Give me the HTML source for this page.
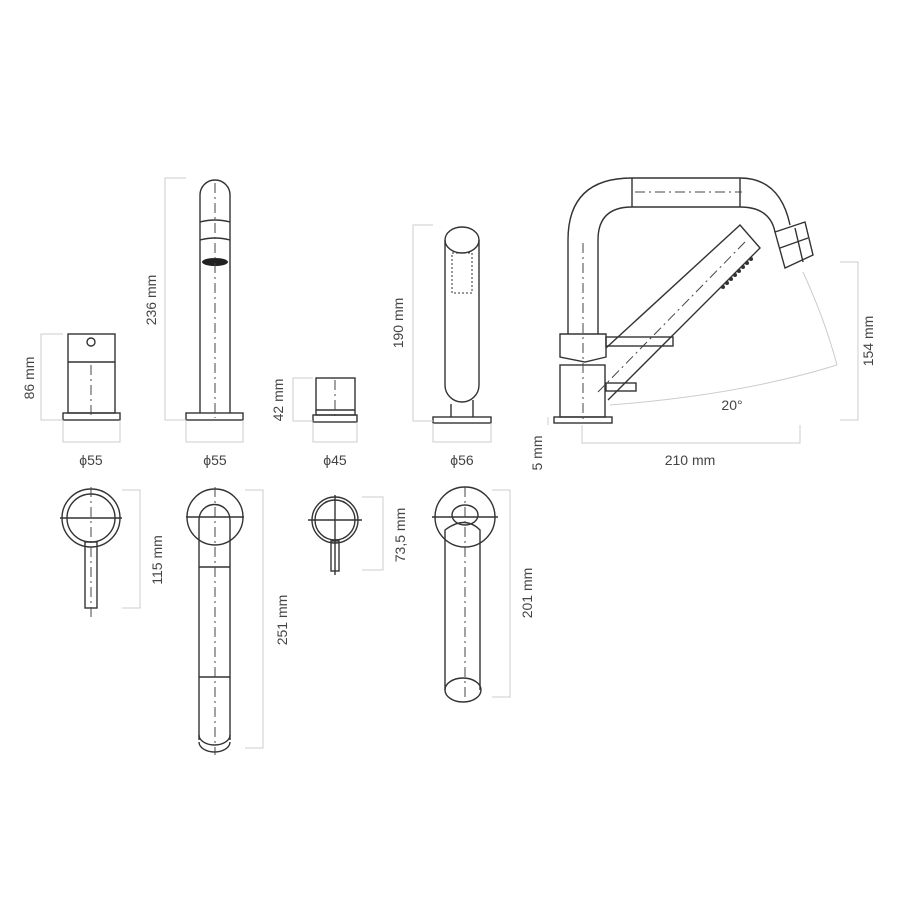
<!DOCTYPE html>
<html><head><meta charset="utf-8"><style>
html,body{margin:0;padding:0;background:#fff}
svg{display:block}
text{font-family:"Liberation Sans",sans-serif;font-size:14px;fill:#444}
.s{fill:none;stroke:#333;stroke-width:1.4}
.d{fill:none;stroke:#ccc;stroke-width:1}
.c{fill:none;stroke:#444;stroke-width:1;stroke-dasharray:10 4 2 4}
</style></head><body>
<svg width="900" height="900" viewBox="0 0 900 900">
<!-- comp1 side -->
<rect class="s" x="63" y="413" width="57" height="7"/>
<rect class="s" x="68" y="334" width="47" height="79"/>
<line class="s" x1="68" y1="362" x2="115" y2="362"/>
<circle class="s" cx="91" cy="342" r="4"/>
<line class="c" x1="91" y1="365" x2="91" y2="418"/>
<polyline class="d" points="63,334 41,334 41,420 63,420"/>
<polyline class="d" points="63,420 63,442 120,442 120,420"/>
<text transform="translate(34,378) rotate(-90)" text-anchor="middle">86 mm</text>
<text x="91" y="465" text-anchor="middle">ϕ55</text>
<!-- comp2 side -->
<rect class="s" x="186" y="413" width="57" height="7"/>
<path class="s" d="M200,413 V195 A15,15 0 0 1 230,195 V413"/>
<path class="s" d="M200,222 Q215,218 230,222 M200,240 Q215,236 230,240"/>
<ellipse cx="215" cy="262" rx="13" ry="4" fill="#222"/>
<line class="c" x1="215" y1="183" x2="215" y2="418"/>
<polyline class="d" points="186,178 165,178 165,420 186,420"/>
<polyline class="d" points="186,420 186,442 243,442 243,420"/>
<text transform="translate(156,300) rotate(-90)" text-anchor="middle">236 mm</text>
<text x="215" y="465" text-anchor="middle">ϕ55</text>
<!-- comp3 side -->
<rect class="s" x="313" y="415" width="44" height="7"/>
<rect class="s" x="316" y="378" width="39" height="37"/>
<line class="s" x1="316" y1="410" x2="355" y2="410"/>
<line class="c" x1="335" y1="380" x2="335" y2="420"/>
<polyline class="d" points="313,378 293,378 293,421 313,421"/>
<polyline class="d" points="313,422 313,442 357,442 357,422"/>
<text transform="translate(283,400) rotate(-90)" text-anchor="middle">42 mm</text>
<text x="335" y="465" text-anchor="middle">ϕ45</text>
<!-- comp4 side -->
<rect class="s" x="433" y="417" width="58" height="6"/>
<path class="s" d="M445,240 V385 A17,17 0 0 0 479,385 V240"/>
<ellipse class="s" cx="462" cy="240" rx="17" ry="13"/>
<rect x="452" y="253" width="20" height="40" fill="none" stroke="#333" stroke-width="1" stroke-dasharray="2 2"/>
<path class="s" d="M451,404 V417 M473,400 V417"/>
<polyline class="d" points="433,225 413,225 413,421 433,421"/>
<polyline class="d" points="433,423 433,442 491,442 491,423"/>
<text transform="translate(403,323) rotate(-90)" text-anchor="middle">190 mm</text>
<text x="462" y="465" text-anchor="middle">ϕ56</text>
<!-- comp5 side -->
<rect class="s" x="554" y="417" width="58" height="6"/>
<rect class="s" x="560" y="365" width="45" height="52"/>
<path class="s" d="M560,334 H606 V357 L585,362 L560,357 Z"/>
<path class="s" d="M568,334 V240 Q568,178 632,178 H740 Q780,178 790,225 M598,334 V240 Q598,207 632,207 H740 Q770,207 775,232"/>
<line class="s" x1="632" y1="178" x2="632" y2="207"/>
<line class="s" x1="740" y1="178" x2="740" y2="207"/>
<line class="c" x1="635" y1="192" x2="742" y2="192"/>
<line class="c" x1="583" y1="243" x2="583" y2="420"/>
<path class="s" d="M775,232 L805,222 L813,255 L785,268 Z M795,228 L803,262 M780,248 L808,238"/>
<path class="s" d="M606,348 L740,225 L760,248 L608,400"/>
<line class="c" x1="598" y1="392" x2="745" y2="242"/>
<g fill="#333"><circle cx="723" cy="287" r="2"/><circle cx="727" cy="283" r="2"/><circle cx="731" cy="279" r="2"/><circle cx="735" cy="275" r="2"/><circle cx="739" cy="271" r="2"/><circle cx="743" cy="267" r="2"/><circle cx="747" cy="263" r="2"/><circle cx="751" cy="259" r="2"/></g>
<rect class="s" x="606" y="337" width="67" height="9" fill="#fff"/>
<rect class="s" x="606" y="383" width="30" height="8" fill="#fff"/>
<path class="d" d="M610,405 Q740,395 837,365 M803,272 Q825,320 837,365"/>
<polyline class="d" points="840,262 858,262 858,420 840,420"/>
<polyline class="d" points="582,425 582,443 800,443 800,425"/>
<text transform="translate(873,341) rotate(-90)" text-anchor="middle">154 mm</text>
<text x="732" y="410" text-anchor="middle">20°</text>
<text x="690" y="465" text-anchor="middle">210 mm</text>
<text transform="translate(542,453) rotate(-90)" text-anchor="middle">5 mm</text>
<line class="d" x1="548" y1="417" x2="548" y2="425"/>
<!-- bottom comp1 -->
<circle class="s" cx="91" cy="518" r="29"/>
<circle class="s" cx="91" cy="518" r="24"/>
<rect class="s" x="85" y="542" width="12" height="66" fill="#fff"/>
<line class="s" x1="60" y1="518" x2="122" y2="518" stroke-width="1"/>
<line class="c" x1="91" y1="487" x2="91" y2="617"/>
<polyline class="d" points="122,490 140,490 140,608 122,608"/>
<text transform="translate(162,560) rotate(-90)" text-anchor="middle">115 mm</text>
<!-- bottom comp2 -->
<circle class="s" cx="215" cy="517" r="28"/>
<path class="s" d="M199,740 V520 A15.5,15.5 0 0 1 230,520 V740" fill="#fff"/>
<path class="s" d="M199,735 A15.5,10 0 0 0 230,735 M199,742 A15.5,10 0 0 0 230,742"/>
<line class="s" x1="199" y1="567" x2="230" y2="567"/>
<line class="s" x1="199" y1="677" x2="230" y2="677"/>
<line class="s" x1="186" y1="517" x2="244" y2="517" stroke-width="1"/>
<line class="c" x1="215" y1="487" x2="215" y2="755"/>
<polyline class="d" points="245,490 263,490 263,748 245,748"/>
<text transform="translate(287,620) rotate(-90)" text-anchor="middle">251 mm</text>
<!-- bottom comp3 -->
<circle class="s" cx="335" cy="520" r="23"/>
<circle class="s" cx="335" cy="520" r="20"/>
<rect class="s" x="331" y="541" width="8" height="30" fill="#fff"/>
<line class="s" x1="308" y1="520" x2="362" y2="520" stroke-width="1"/>
<line class="s" x1="335" y1="495" x2="335" y2="575" stroke-width="1"/>
<polyline class="d" points="362,497 383,497 383,570 362,570"/>
<text transform="translate(405,535) rotate(-90)" text-anchor="middle">73,5 mm</text>
<!-- bottom comp4 -->
<circle class="s" cx="465" cy="517" r="30"/>
<ellipse class="s" cx="465" cy="515" rx="13" ry="10" fill="#fff"/>
<path class="s" d="M445,690 V530 Q465,515 480,530 V690" fill="#fff"/>
<ellipse class="s" cx="463" cy="690" rx="18" ry="12"/>
<line class="s" x1="432" y1="517" x2="498" y2="517" stroke-width="1"/>
<line class="c" x1="465" y1="487" x2="465" y2="700"/>
<polyline class="d" points="492,490 510,490 510,697 492,697"/>
<text transform="translate(532,593) rotate(-90)" text-anchor="middle">201 mm</text>
</svg>
</body></html>
